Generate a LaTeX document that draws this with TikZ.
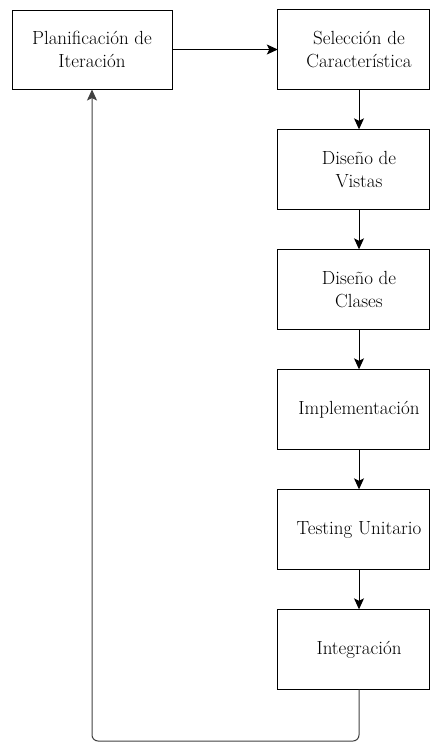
\documentclass[tikz,border=0pt]{standalone}
\usetikzlibrary{arrows.meta}
\begin{document}
\begin{tikzpicture}[x=1pt,y=-1pt,
  every node/.style={font=\fontsize{19}{22.5}\selectfont, align=center, inner sep=0pt},
  stepbox/.style={minimum width=162pt, minimum height=80pt},
  leftbox/.style={draw, line width=1pt, minimum width=160pt, minimum height=79pt},
  flow/.style={line width=1pt, -{Stealth[length=11pt,width=10pt,inset=2.5pt]}},
  loopline/.style={line width=1pt, draw=black!75, rounded corners=6pt, -{Stealth[length=11pt,width=10pt,inset=2.5pt]}}
]
\useasboundingbox (0,0) rectangle (430,742);
\node[leftbox] (plan) at (92,49.5) {Planificación de\\Iteración};
\node[stepbox] (sel) at (359,49.5) {Selección de\\Característica};
\node[stepbox] (vis) at (359,169.5) {Diseño de\\Vistas};
\node[stepbox] (cla) at (359,289.5) {Diseño de\\Clases};
\node[stepbox] (imp) at (359,409.5) {Implementación};
\node[stepbox] (tes) at (359,529.5) {Testing Unitario};
\node[stepbox] (int) at (359,649.5) {Integración};
\coordinate (redge) at (429,0);
\foreach \n in {sel,vis,cla,imp,tes,int}
  \draw[line width=1pt] (\n.north west) rectangle (\n.south east -| redge);
\draw[flow] (plan.east) -- (sel.west);
\draw[flow] (sel.south) -- (vis.north);
\draw[flow] (vis.south) -- (cla.north);
\draw[flow] (cla.south) -- (imp.north);
\draw[flow] (imp.south) -- (tes.north);
\draw[flow] (tes.south) -- (int.north);
\coordinate (bottom) at (0,741);
\draw[loopline] (int.south) -- (int.south |- bottom) -- (plan.south |- bottom) -- (plan.south);
\end{tikzpicture}
\end{document}
